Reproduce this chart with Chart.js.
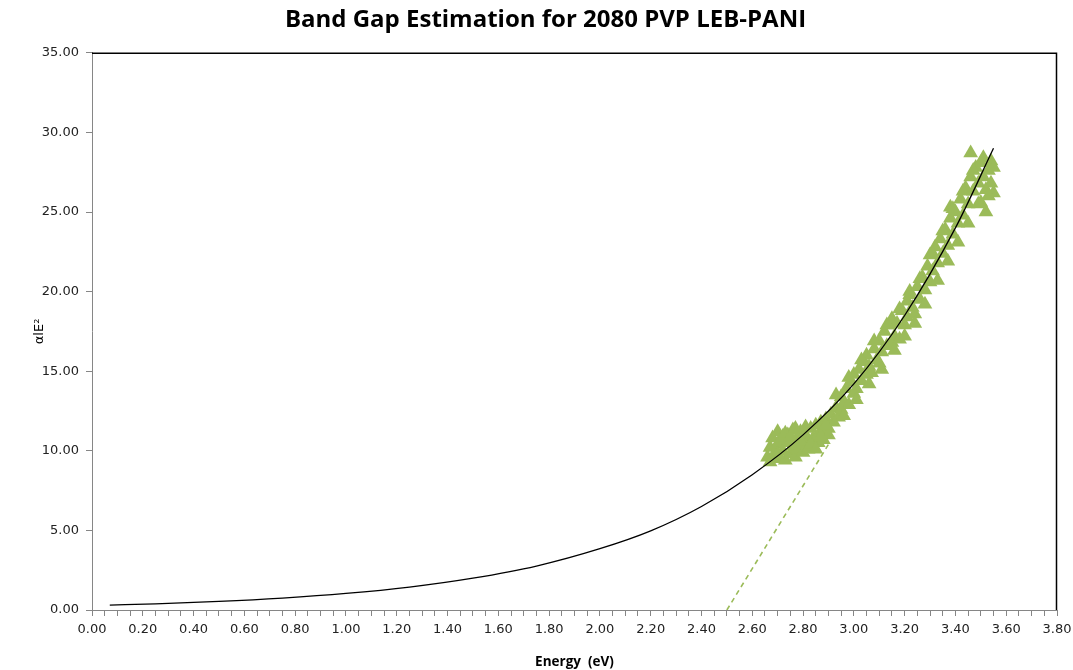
<!DOCTYPE html>
<html>
<head>
<meta charset="utf-8">
<script src="https://cdn.jsdelivr.net/npm/chart.js@4/dist/chart.umd.min.js"></script>
<style>
  html, body { margin: 0; padding: 0; background: #ffffff; }
  #wrap { width: 1073px; height: 670px; }
</style>
</head>
<body>
<div id="wrap"><canvas id="c" width="1073" height="670"></canvas></div>
<script>
// ---- Data ----
const chartTitle = "Band Gap Estimation for 2080 PVP LEB-PANI";
const xTitle = "Energy  (eV)";
const yTitle = "\u03B1lE\u00B2";

// Measured points (green triangles)
const scatterEnergy = [
  2.66,2.67,2.67,2.68,2.69,2.70,2.70,2.71,2.72,2.72,2.73,2.74,2.74,2.75,2.76,2.76,2.77,2.78,2.78,2.79,
  2.80,2.80,2.81,2.82,2.82,2.83,2.84,2.84,2.85,2.86,2.86,2.87,2.88,2.88,2.89,2.90,2.90,
  2.91,2.92,2.93,2.94,2.95,2.95,2.96,2.97,2.98,2.99,3.00,3.00,3.01,3.02,3.03,3.04,3.05,3.05,3.06,3.07,
  3.08,3.09,3.10,3.10,3.11,3.12,3.13,3.14,3.15,3.15,3.16,3.17,3.18,3.19,3.20,3.21,3.21,3.22,3.23,3.24,
  3.25,3.26,3.27,3.28,3.29,3.30,3.30,3.31,3.32,3.33,3.34,3.35,3.36,3.37,3.38,3.38,3.39,3.40,3.41,3.42,
  3.43,3.44,3.45,3.46,3.46,3.47,3.48,3.49,3.50,3.50,3.51,3.52,3.52,3.53,3.54,3.54,3.55,3.55,
  2.68,2.70,2.71,2.73,2.75,2.77,2.79,2.81,2.83,2.85,2.87,2.89,
  2.93,2.96,2.98,3.01,3.03,3.06,3.08,3.11,3.13,3.16,3.18,3.20,3.22,3.24,3.26,3.28,3.31,3.33,3.35,3.37,
  3.39,3.41,3.43,3.45,3.47,3.49,3.51,3.53
];
const scatterValue = [
  9.6,10.2,9.3,10.8,9.9,11.2,10.4,9.5,10.9,10.0,9.4,11.0,10.5,9.8,11.3,10.3,9.6,10.8,10.1,11.2,
  10.4,9.9,11.0,10.6,10.1,11.4,10.8,10.3,11.6,11.0,10.5,11.8,11.3,10.7,12.0,11.4,11.0,
  12.3,11.8,12.7,12.1,13.4,12.6,13.0,13.9,12.9,14.3,13.6,14.8,13.9,15.1,14.4,15.6,14.8,16.0,15.3,14.9,
  16.4,15.7,16.9,15.5,16.2,17.5,16.6,17.9,16.8,18.3,17.2,18.0,17.0,18.8,17.9,19.4,18.4,20.0,19.0,18.6,
  20.3,19.5,20.9,20.1,21.6,20.6,22.3,21.3,22.8,21.8,23.3,22.4,23.9,22.9,24.6,25.3,23.6,25.0,24.3,25.8,
  24.8,26.5,25.5,27.2,28.7,26.3,27.8,26.8,28.1,25.6,27.2,25.0,26.4,27.6,28.2,26.8,27.8,26.2,
  9.5,9.8,10.7,11.1,10.9,11.4,10.6,11.5,10.4,10.1,10.9,11.6,
  13.5,12.2,14.6,13.2,15.7,14.2,16.9,15.1,17.9,16.3,18.9,17.2,19.8,18.0,20.8,19.2,22.4,20.7,23.8,21.9,
  25.2,23.1,26.3,24.3,27.6,25.5,28.4,26.0
];

// Trend curve (black line) read along its path
const fitEnergy = [0.07,0.25,0.50,0.75,1.00,1.25,1.50,1.75,2.00,2.20,2.40,2.60,2.80,3.00,3.20,3.40,3.55];
const fitValue  = [0.31,0.39,0.54,0.75,1.04,1.44,2.00,2.76,3.85,4.97,6.50,8.50,11.0,14.2,18.5,24.0,29.0];

// Extrapolated tangent (green dashed line)
const tangentEnergy = [2.50, 2.90];
const tangentValue  = [0.00, 10.4];

// Axis ranges / ticks
const xMin = 0, xMax = 3.8, xMinorStep = 0.05, xLabelStep = 0.2;
const yMin = 0, yMax = 35, yStep = 5;

const toXY = (xs, ys) => xs.map((x, i) => ({ x: x, y: ys[i] }));

const frameBorder = {
  id: 'frameBorder',
  afterDatasetsDraw(chart) {
    const a = chart.chartArea, ctx = chart.ctx;
    ctx.save();
    ctx.strokeStyle = '#000000';
    ctx.lineWidth = 1.5;
    ctx.beginPath();
    ctx.moveTo(a.left, a.top + 0.5);
    ctx.lineTo(a.right - 0.5, a.top + 0.5);
    ctx.lineTo(a.right - 0.5, a.bottom);
    ctx.stroke();
    ctx.restore();
  }
};

const bgPlugin = {
  id: 'bg',
  beforeDraw(chart) {
    const ctx = chart.ctx;
    ctx.save();
    ctx.fillStyle = '#ffffff';
    ctx.fillRect(0, 0, chart.width, chart.height);
    ctx.restore();
  }
};

new Chart(document.getElementById('c'), {
  type: 'scatter',
  data: {
    datasets: [
      {
        label: 'Fit',
        type: 'line',
        data: toXY(fitEnergy, fitValue),
        borderColor: '#000000',
        borderWidth: 1.3,
        pointRadius: 0,
        fill: false,
        cubicInterpolationMode: 'monotone',
        order: 0
      },
      {
        label: 'Data',
        data: toXY(scatterEnergy, scatterValue),
        pointStyle: 'triangle',
        pointRadius: 8.5,
        backgroundColor: '#9BBB59',
        borderColor: '#9BBB59',
        borderWidth: 0,
        order: 1
      },
      {
        label: 'Tangent',
        type: 'line',
        data: toXY(tangentEnergy, tangentValue),
        borderColor: '#9BBB59',
        borderWidth: 1.6,
        borderDash: [5, 4],
        pointRadius: 0,
        fill: false,
        order: 2
      }
    ]
  },
  options: {
    responsive: false,
    animation: false,
    layout: { padding: { left: 18, right: 0, top: 0, bottom: 0 } },
    plugins: {
      legend: { display: false },
      tooltip: { enabled: false },
      title: {
        display: true,
        text: chartTitle,
        color: '#000000',
        font: { family: 'Open Sans', size: 24, weight: 'bold' },
        padding: { top: 6, bottom: 18 }
      }
    },
    scales: {
      x: {
        type: 'linear',
        min: xMin, max: xMax,
        afterFit(scale) { scale.height = 60; scale.paddingRight = 16; scale.paddingLeft = 0; },
        ticks: {
          stepSize: xMinorStep,
          autoSkip: false,
          maxRotation: 0,
          minRotation: 0,
          padding: 6,
          color: '#222222',
          font: { family: 'DejaVu Sans', size: 13 },
          callback(v) {
            const r = v / xLabelStep;
            return Math.abs(r - Math.round(r)) < 1e-6 ? Number(v).toFixed(2) : '';
          }
        },
        grid: { drawOnChartArea: false, drawTicks: true, tickLength: 6, color: '#868686' },
        border: { display: true, color: '#868686', width: 1 },
        title: {
          display: true,
          text: xTitle,
          color: '#000000',
          font: { family: 'Open Sans', size: 13.5, weight: 'bold' },
          padding: { top: 0, bottom: 0 }
        }
      },
      y: {
        type: 'linear',
        min: yMin, max: yMax,
        afterFit(scale) { scale.width = 74; },
        ticks: {
          stepSize: yStep,
          padding: 7,
          color: '#222222',
          font: { family: 'DejaVu Sans', size: 13 },
          callback(v) { return Number(v).toFixed(2); }
        },
        grid: { drawOnChartArea: false, drawTicks: true, tickLength: 6, color: '#868686' },
        border: { display: true, color: '#868686', width: 1 },
        title: {
          display: true,
          text: yTitle,
          color: '#000000',
          font: { family: 'DejaVu Sans', size: 13 },
          padding: { top: 14, bottom: 0 }
        }
      }
    }
  },
  plugins: [bgPlugin, frameBorder]
});
</script>
</body>
</html>
